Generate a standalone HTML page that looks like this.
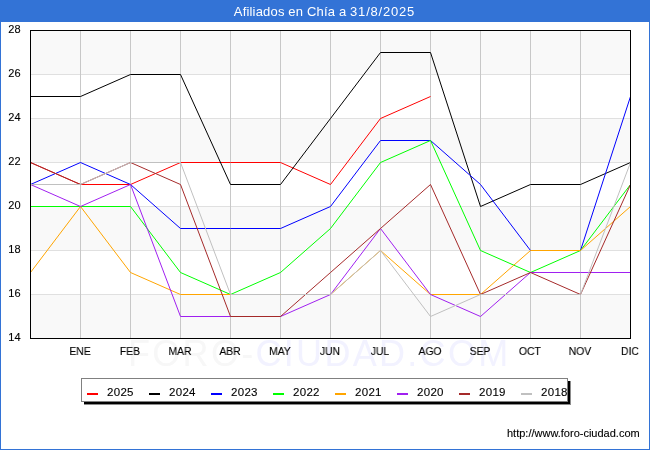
<!DOCTYPE html>
<html><head><meta charset="utf-8"><style>
html,body{margin:0;padding:0;}
body{width:650px;height:450px;position:relative;overflow:hidden;background:#fff;font-family:"Liberation Sans",sans-serif;}
#frame{position:absolute;left:0;top:0;width:648px;height:448px;border:1px solid #3373d6;}
#hdr{position:absolute;left:0;top:0;width:650px;height:22px;background:#3373d6;color:#fff;font-size:13px;line-height:22px;text-align:center;}
#hdr span{position:relative;top:1px;left:-0.5px;letter-spacing:0.175px;white-space:pre;}
#hdr span i{font-style:normal;letter-spacing:0.8px;}
svg{position:absolute;left:0;top:0;}
.yl,.xl,.lt,#url,#wm,#hdr span{will-change:transform;}
.yl,.xl,.lt,#url{-webkit-text-stroke:0.12px #000;}
.yl{position:absolute;left:0;width:21px;text-align:right;font-size:11px;line-height:14px;color:#000;letter-spacing:0.3px;margin-top:-1px;}
.xl{position:absolute;top:344px;width:40px;margin-left:-0.4px;text-align:center;font-size:11.5px;line-height:14px;color:#000;transform:scaleX(0.9);}
#wm{position:absolute;left:128px;top:333px;font-size:36px;line-height:42px;color:#f7f7f7;letter-spacing:2.3px;white-space:nowrap;}
#wm b{font-weight:normal;color:#f2f2ff;}
#legsh{position:absolute;left:84px;top:381px;width:486px;height:23px;background:#000;border-right:1px solid #8c8c8c;border-bottom:1px solid #8c8c8c;}
#leg{position:absolute;left:81px;top:378px;width:485px;height:22px;background:#fff;border:1px solid #808080;}
.lm{position:absolute;top:393px;width:11px;height:2px;}
.lt{position:absolute;top:385px;font-size:11.5px;line-height:14px;color:#000;letter-spacing:0.3px;}
#url{position:absolute;right:10px;top:427px;font-size:11px;line-height:13px;color:#000;white-space:nowrap;}
</style></head><body>
<div id="wm">FORO-<b>CIUDAD.COM</b></div>
<svg width="650" height="450" viewBox="0 0 650 450">
<rect x="30" y="30" width="600" height="44" fill="#f9f9f9"/>
<rect x="30" y="118" width="600" height="44" fill="#f9f9f9"/>
<rect x="30" y="206" width="600" height="44" fill="#f9f9f9"/>
<rect x="30" y="294" width="600" height="44" fill="#f9f9f9"/>
<rect x="30" y="294" width="600" height="1" fill="#e0e0e0"/>
<rect x="30" y="250" width="600" height="1" fill="#e0e0e0"/>
<rect x="30" y="206" width="600" height="1" fill="#e0e0e0"/>
<rect x="30" y="162" width="600" height="1" fill="#e0e0e0"/>
<rect x="30" y="118" width="600" height="1" fill="#e0e0e0"/>
<rect x="30" y="74" width="600" height="1" fill="#e0e0e0"/>
<rect x="80" y="30" width="1" height="308" fill="#c8c8c8"/>
<rect x="130" y="30" width="1" height="308" fill="#c8c8c8"/>
<rect x="180" y="30" width="1" height="308" fill="#c8c8c8"/>
<rect x="230" y="30" width="1" height="308" fill="#c8c8c8"/>
<rect x="280" y="30" width="1" height="308" fill="#c8c8c8"/>
<rect x="330" y="30" width="1" height="308" fill="#c8c8c8"/>
<rect x="380" y="30" width="1" height="308" fill="#c8c8c8"/>
<rect x="430" y="30" width="1" height="308" fill="#c8c8c8"/>
<rect x="480" y="30" width="1" height="308" fill="#c8c8c8"/>
<rect x="530" y="30" width="1" height="308" fill="#c8c8c8"/>
<rect x="580" y="30" width="1" height="308" fill="#c8c8c8"/>
<polyline points="30.5,162.5 80.5,184.5 130.5,184.5 180.5,162.5 230.5,162.5 280.5,162.5 330.5,184.5 380.5,118.5 430.5,96.5" fill="none" stroke="#ff0000" stroke-width="1" stroke-linejoin="round"/>
<polyline points="30.5,96.5 80.5,96.5 130.5,74.5 180.5,74.5 230.5,184.5 280.5,184.5 330.5,118.5 380.5,52.5 430.5,52.5 480.5,206.5 530.5,184.5 580.5,184.5 630.5,162.5" fill="none" stroke="#000000" stroke-width="1" stroke-linejoin="round"/>
<polyline points="30.5,184.5 80.5,162.5 130.5,184.5 180.5,228.5 230.5,228.5 280.5,228.5 330.5,206.5 380.5,140.5 430.5,140.5 480.5,184.5 530.5,250.5 580.5,250.5 630.5,96.5" fill="none" stroke="#0000ff" stroke-width="1" stroke-linejoin="round"/>
<polyline points="30.5,206.5 80.5,206.5 130.5,206.5 180.5,272.5 230.5,294.5 280.5,272.5 330.5,228.5 380.5,162.5 430.5,140.5 480.5,250.5 530.5,272.5 580.5,250.5 630.5,184.5" fill="none" stroke="#00ff00" stroke-width="1" stroke-linejoin="round"/>
<polyline points="30.5,272.5 80.5,206.5 130.5,272.5 180.5,294.5 230.5,294.5 280.5,294.5 330.5,294.5 380.5,250.5 430.5,294.5 480.5,294.5 530.5,250.5 580.5,250.5 630.5,206.5" fill="none" stroke="#ffa500" stroke-width="1" stroke-linejoin="round"/>
<polyline points="30.5,184.5 80.5,206.5 130.5,184.5 180.5,316.5 230.5,316.5 280.5,316.5 330.5,294.5 380.5,228.5 430.5,294.5 480.5,316.5 530.5,272.5 580.5,272.5 630.5,272.5" fill="none" stroke="#a020f0" stroke-width="1" stroke-linejoin="round"/>
<polyline points="30.5,162.5 80.5,184.5 130.5,162.5 180.5,184.5 230.5,316.5 280.5,316.5 330.5,272.5 380.5,228.5 430.5,184.5 480.5,294.5 530.5,272.5 580.5,294.5 630.5,184.5" fill="none" stroke="#a52a2a" stroke-width="1" stroke-linejoin="round"/>
<polyline points="30.5,184.5 80.5,184.5 130.5,162.5 180.5,162.5 230.5,294.5 280.5,294.5 330.5,294.5 380.5,250.5 430.5,316.5 480.5,294.5 530.5,294.5 580.5,294.5 630.5,162.5" fill="none" stroke="#c0c0c0" stroke-width="1" stroke-linejoin="round"/>
<rect x="30.5" y="30.5" width="600" height="308" fill="none" stroke="#000" stroke-width="1"/>
</svg>
<div id="hdr"><span>Afiliados en Chía a <i>31/8/2025</i></span></div>
<div id="frame"></div>
<div class="yl" style="top:331px">14</div><div class="yl" style="top:287px">16</div><div class="yl" style="top:243px">18</div><div class="yl" style="top:199px">20</div><div class="yl" style="top:155px">22</div><div class="yl" style="top:111px">24</div><div class="yl" style="top:67px">26</div><div class="yl" style="top:23px">28</div><div class="xl" style="left:60px">ENE</div><div class="xl" style="left:110px">FEB</div><div class="xl" style="left:160px">MAR</div><div class="xl" style="left:210px">ABR</div><div class="xl" style="left:260px">MAY</div><div class="xl" style="left:310px">JUN</div><div class="xl" style="left:360px">JUL</div><div class="xl" style="left:410px">AGO</div><div class="xl" style="left:460px">SEP</div><div class="xl" style="left:510px">OCT</div><div class="xl" style="left:560px">NOV</div><div class="xl" style="left:610px">DIC</div>
<div id="legsh"></div><div id="leg"></div>
<div class="lm" style="left:87px;background:#ff0000"></div><div class="lt" style="left:107px">2025</div><div class="lm" style="left:149px;background:#000000"></div><div class="lt" style="left:169px">2024</div><div class="lm" style="left:211px;background:#0000ff"></div><div class="lt" style="left:231px">2023</div><div class="lm" style="left:273px;background:#00ff00"></div><div class="lt" style="left:293px">2022</div><div class="lm" style="left:335px;background:#ffa500"></div><div class="lt" style="left:355px">2021</div><div class="lm" style="left:397px;background:#a020f0"></div><div class="lt" style="left:417px">2020</div><div class="lm" style="left:459px;background:#a52a2a"></div><div class="lt" style="left:479px">2019</div><div class="lm" style="left:521px;background:#c0c0c0"></div><div class="lt" style="left:541px">2018</div>
<div id="url">http://www.foro-ciudad.com</div>
</body></html>
